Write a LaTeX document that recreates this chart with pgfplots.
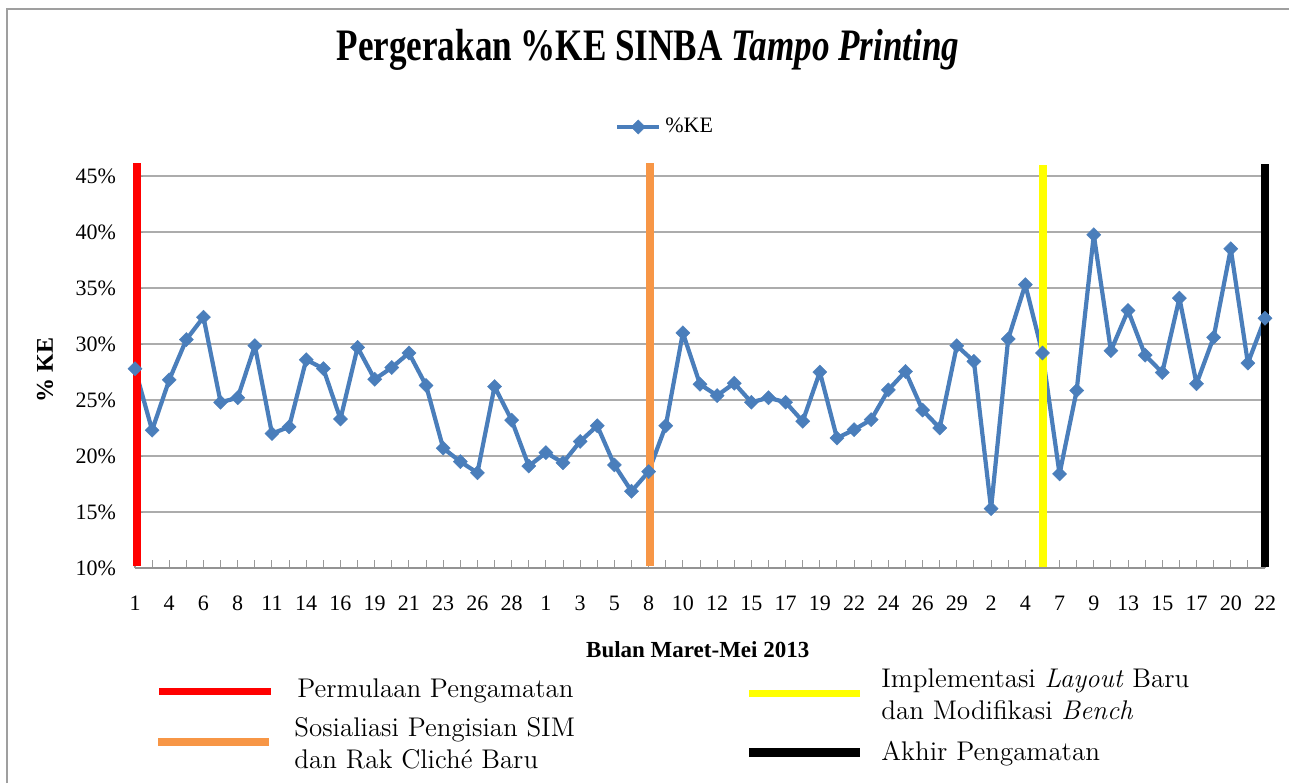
\documentclass[border=0pt]{standalone}
\usepackage{fontspec}
\setmainfont{Liberation Serif}
\newfontfamily\condfont[FakeStretch=0.78]{Liberation Serif}
\usepackage{pgfplots}
\pgfplotsset{compat=1.18}
\definecolor{kblue}{HTML}{4A7EBB}
\definecolor{korange}{HTML}{F79646}
\definecolor{kyellow}{HTML}{FFFF00}
\newcommand{\lm}{\fontfamily{lmr}\selectfont}
\pgfplotstableread{
i v
0 27.8
1 22.3
2 26.8
3 30.4
4 32.4
5 24.8
6 25.2
7 29.85
8 22.0
9 22.6
10 28.6
11 27.8
12 23.3
13 29.7
14 26.85
15 27.9
16 29.2
17 26.3
18 20.7
19 19.5
20 18.5
21 26.2
22 23.2
23 19.1
24 20.3
25 19.4
26 21.3
27 22.7
28 19.2
29 16.85
30 18.6
31 22.7
32 31.0
33 26.4
34 25.4
35 26.5
36 24.8
37 25.2
38 24.8
39 23.1
40 27.5
41 21.6
42 22.35
43 23.25
44 25.9
45 27.55
46 24.1
47 22.5
48 29.85
49 28.45
50 15.3
51 30.45
52 35.3
53 29.2
54 18.4
55 25.85
56 39.75
57 29.4
58 33.0
59 29.0
60 27.45
61 34.1
62 26.45
63 30.6
64 38.5
65 28.3
66 32.3
}\kedata
\begin{document}
\begin{tikzpicture}
\begin{scope}[x=0.5pt,y=-0.5pt]
\path[use as bounding box] (0,0) rectangle (1289,783);
\draw[gray!75, line width=0.8pt] (7,783) -- (7,9) -- (1289,9);
\end{scope}
\begin{axis}[
  at={(67.5pt,-284pt)}, anchor=south west,
  scale only axis, width=565pt, height=196pt,
  xmin=0, xmax=66, ymin=10, ymax=45,
  clip=false,
  axis x line*=bottom, axis y line*=left,
  axis line style={draw=gray!85, line width=0.6pt},
  ymajorgrids, grid style={gray!65, line width=0.6pt},
  xtick={0,2,...,66},
  xticklabels={1,4,6,8,11,14,16,19,21,23,26,28,1,3,5,8,10,12,15,17,19,22,24,26,29,2,4,7,9,13,15,17,20,22},
  minor xtick={1,3,...,65},
  ytick={10,15,...,45},
  yticklabel={\pgfmathprintnumber{\tick}\%},
  /pgf/number format/assume math mode=true,
  tick align=inside,
  major tick length=4pt, minor tick length=4pt,
  tick style={gray!80, line width=0.5pt},
  ticklabel style={font=\fontsize{11}{13}\selectfont},
  xticklabel style={anchor=center, yshift=-17.5pt},
  yticklabel style={anchor=east, xshift=-6pt},
  title={\condfont\bfseries Pergerakan \%KE SINBA \textit{Tampo Printing}},
  title style={at={(axis description cs:0.454,1.29)}, anchor=center, font=\fontsize{22.5}{26}\selectfont},
  xlabel={\textbf{Bulan Maret-Mei 2013}},
  xlabel style={at={(axis description cs:0.498,-0.209)}, anchor=center, font=\fontsize{11.5}{13}\selectfont},
  ylabel={\textbf{\% KE}},
  ylabel style={at={(axis description cs:-0.0796,0.505)}, anchor=center, rotate=0, font=\fontsize{12}{14}\selectfont},
  legend style={at={(axis description cs:0.47,1.125)}, anchor=center, draw=none, fill=none, font=\fontsize{11}{13}\selectfont, inner sep=1pt},
  legend image code/.code={\draw[#1, mark repeat=2, mark phase=2] plot coordinates {(0pt,0pt) (10.5pt,0pt) (21pt,0pt)};},
]
\addplot[kblue, line width=2.1pt, line join=round, mark=square*, mark size=2.5pt,
  mark options={rotate=45, fill=kblue, draw=kblue, line width=0.2pt, line join=miter}] table[x=i, y=v] {\kedata};
\addlegendentry{\%KE}
\addplot[red, line width=4pt, forget plot] coordinates {(0.12,10.15) (0.12,46.15)};
\addplot[korange, line width=4pt, forget plot] coordinates {(30.1,10.2) (30.1,46.15)};
\addplot[kyellow, line width=4pt, forget plot] coordinates {(53.05,10.1) (53.05,46.0)};
\addplot[black, line width=4pt, forget plot] coordinates {(66.0,10.1) (66.0,46.1)};
\end{axis}
\begin{scope}[x=0.5pt,y=-0.5pt]
\draw[red, line width=3.6pt] (159,691.5) -- (271,691.5);
\draw[korange, line width=3.8pt] (158,742) -- (269,742);
\draw[kyellow, line width=3.6pt] (749,693.5) -- (860,693.5);
\draw[black, line width=4.2pt] (749,752.5) -- (860,752.5);
\begin{scope}[every node/.style={anchor=base west, inner sep=0pt, font=\lm\fontsize{13.5}{16}\selectfont}]
\node at (297,697) {Permulaan Pengamatan};
\node at (294,736) {Sosialiasi Pengisian SIM};
\node at (294,768) {dan Rak Clich\'e Baru};
\node at (881,687) {Implementasi \textit{Layout} Baru};
\node at (881,719) {dan Modifikasi \textit{Bench}};
\node at (881,760) {Akhir Pengamatan};
\end{scope}
\end{scope}
\end{tikzpicture}
\end{document}
